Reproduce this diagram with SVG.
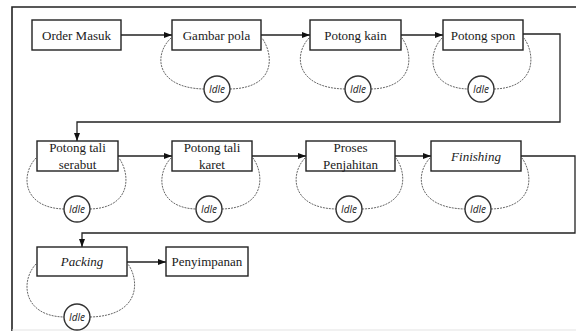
<svg xmlns="http://www.w3.org/2000/svg" width="576" height="331" viewBox="0 0 576 331">
  <style>
    .box { fill: #fff; stroke: #222; stroke-width: 1.4; }
    .lbl { font-size: 13px; fill: #1a1a1a; text-anchor: middle; }
    .it { font-style: italic; }
    .conn { fill: none; stroke: #222; stroke-width: 1.3; }
    .loop { fill: none; stroke: #666; stroke-width: 1; stroke-dasharray: 2 1; }
    .idle { fill: #fff; stroke: #333; stroke-width: 1.4; }
    .idlet { font-size: 10px; font-style: italic; fill: #222; text-anchor: middle; }
    .frame { fill: none; stroke: #222; stroke-width: 1.6; }
  </style>
  <defs>
    <marker id="arr" viewBox="0 0 8 6" refX="8" refY="3" markerWidth="8" markerHeight="6" markerUnits="userSpaceOnUse" orient="auto">
      <path d="M0,0 L8,3 L0,6 z" fill="#111"/>
    </marker>
  </defs>
  <rect width="576" height="331" fill="#fff"/>
  <!-- outer frame -->
  <path class="frame" d="M12,331 V7 H576"/>
  <path d="M12,330 H576" stroke="#e4e4e4" stroke-width="1.2"/>

  <!-- connectors -->
  <g id="connectors">
    <path class="conn" marker-end="url(#arr)" d="M121,35 H172"/>
    <path class="conn" marker-end="url(#arr)" d="M261,35 H310"/>
    <path class="conn" marker-end="url(#arr)" d="M401,35 H443"/>
    <path class="conn" marker-end="url(#arr)" d="M523,34 H560 V122 H77 V141"/>
    <path class="conn" marker-end="url(#arr)" d="M118,156 H172"/>
    <path class="conn" marker-end="url(#arr)" d="M252,156 H306"/>
    <path class="conn" marker-end="url(#arr)" d="M395,156 H431"/>
    <path class="conn" marker-end="url(#arr)" d="M521,156 H575 V233 H82 V247"/>
    <path class="conn" marker-end="url(#arr)" d="M127,262 H166"/>
  </g>

  <g font-family="Liberation Serif, serif">
  <g id="order-masuk">
    <rect class="box" x="32" y="20" width="89" height="30"/>
    <text class="lbl" x="76.5" y="39.5">Order Masuk</text>
  </g>

  <g id="gambar-pola">
    <path class="loop" d="M171,38 C153,55 156,88 204,89"/>
    <path class="loop" d="M230,89 C276,88 274,55 262,38"/>
    <rect class="box" x="172" y="20" width="89" height="30"/>
    <text class="lbl" x="216.5" y="39.5">Gambar pola</text>
    <circle class="idle" cx="217" cy="89" r="13"/>
    <text class="idlet" font-family="Open Sans, sans-serif" x="217" y="92.5">Idle</text>
  </g>

  <g id="potong-kain">
    <path class="loop" d="M309,38 C293,55 296,88 345,89"/>
    <path class="loop" d="M371,89 C414,88 414,55 402,38"/>
    <rect class="box" x="310" y="20" width="91" height="30"/>
    <text class="lbl" x="355.5" y="39.5">Potong kain</text>
    <circle class="idle" cx="358" cy="89" r="13"/>
    <text class="idlet" font-family="Open Sans, sans-serif" x="358" y="92.5">Idle</text>
  </g>

  <g id="potong-spon">
    <path class="loop" d="M442,38 C426,55 429,88 468,89"/>
    <path class="loop" d="M494,89 C536,88 536,55 524,38"/>
    <rect class="box" x="443" y="20" width="80" height="30"/>
    <text class="lbl" x="483" y="39.5">Potong spon</text>
    <circle class="idle" cx="481" cy="89" r="13"/>
    <text class="idlet" font-family="Open Sans, sans-serif" x="481" y="92.5">Idle</text>
  </g>

  <g id="potong-tali-serabut">
    <path class="loop" d="M36,158 C20,175 23,208 64,209"/>
    <path class="loop" d="M90,209 C131,208 131,175 119,158"/>
    <rect class="box" x="37" y="141" width="81" height="30"/>
    <text class="lbl" x="77.5" y="152">Potong tali</text>
    <text class="lbl" x="77.5" y="168.5">serabut</text>
    <circle class="idle" cx="77" cy="209" r="13"/>
    <text class="idlet" font-family="Open Sans, sans-serif" x="77" y="212.5">Idle</text>
  </g>

  <g id="potong-tali-karet">
    <path class="loop" d="M171,158 C155,175 158,208 196,209"/>
    <path class="loop" d="M222,209 C265,208 265,175 253,158"/>
    <rect class="box" x="172" y="141" width="80" height="30"/>
    <text class="lbl" x="212" y="152">Potong tali</text>
    <text class="lbl" x="212" y="168.5">karet</text>
    <circle class="idle" cx="209" cy="209" r="13"/>
    <text class="idlet" font-family="Open Sans, sans-serif" x="209" y="212.5">Idle</text>
  </g>

  <g id="proses-penjahitan">
    <path class="loop" d="M305,158 C289,175 292,208 336,209"/>
    <path class="loop" d="M362,209 C408,208 408,175 396,158"/>
    <rect class="box" x="306" y="141" width="89" height="30"/>
    <text class="lbl" x="350.5" y="152">Proses</text>
    <text class="lbl" x="350.5" y="168.5">Penjahitan</text>
    <circle class="idle" cx="349" cy="209" r="13"/>
    <text class="idlet" font-family="Open Sans, sans-serif" x="349" y="212.5">Idle</text>
  </g>

  <g id="finishing">
    <path class="loop" d="M430,158 C414,175 417,208 465,209"/>
    <path class="loop" d="M491,209 C534,208 534,175 522,158"/>
    <rect class="box" x="431" y="141" width="90" height="30"/>
    <text class="lbl it" x="476" y="160.5">Finishing</text>
    <circle class="idle" cx="478" cy="209" r="13"/>
    <text class="idlet" font-family="Open Sans, sans-serif" x="478" y="212.5">Idle</text>
  </g>

  <g id="packing">
    <path class="loop" d="M36,264 C20,281 23,316 64,317"/>
    <path class="loop" d="M90,317 C140,316 140,281 128,264"/>
    <rect class="box" x="37" y="247" width="90" height="29"/>
    <text class="lbl it" x="82" y="266">Packing</text>
    <circle class="idle" cx="77" cy="317" r="13"/>
    <text class="idlet" font-family="Open Sans, sans-serif" x="77" y="320.5">Idle</text>
  </g>

  <g id="penyimpanan">
    <rect class="box" x="166" y="247" width="82" height="29"/>
    <text class="lbl" x="207" y="266">Penyimpanan</text>
  </g>
  </g>
</svg>
